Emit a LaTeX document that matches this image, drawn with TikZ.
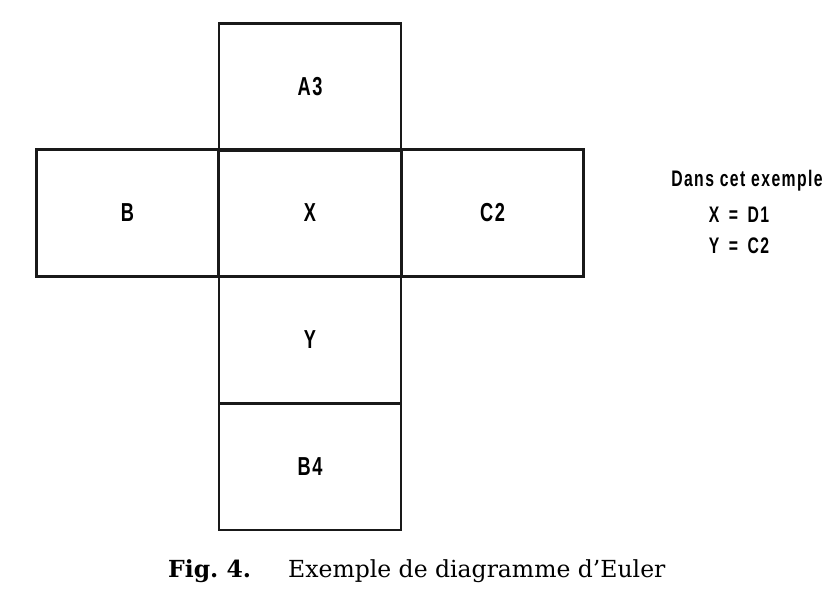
\documentclass[tikz,border=0pt]{standalone}
\usepackage{fontspec}
\setmainfont{DejaVu Serif}
\newfontfamily\labelfont{Liberation Sans}[LetterSpace=9]
\newcommand{\cond}[1]{\scalebox{0.7}[1]{\labelfont\bfseries #1}}
\begin{document}
\begin{tikzpicture}[x=1pt,y=-1pt,
  cell/.style={draw=black!90,line width=2.8pt,minimum width=182pt,minimum height=127pt,inner sep=0pt,font=\fontsize{26}{30}\selectfont},
  note/.style={inner sep=0pt,font=\fontsize{22.5}{26}\selectfont},
  capt/.style={inner sep=0pt,anchor=base west,font=\fontsize{23.5}{28}\selectfont}]
\useasboundingbox (0,0) rectangle (838,591);
% central cross of cells
\node[cell] (x) at (310,213) {\cond{X}};
\node[cell] (a3) at (310,87) {\cond{A3}};
\node[cell] (b) at (127.5,213) {\cond{B}};
\node[cell] (c2) at (492.5,213) {\cond{C2}};
\node[cell] (y) at (310,340) {\cond{Y}};
\node[cell] (b4) at (310,466.5) {\cond{B4}};
% example values
\node[note] (n1) at (747,181) {\cond{Dans cet exemple}};
\node[note] (n2) at (739,215) {\cond{X\hspace{0.6em}=\hspace{0.6em}D1}};
\node[note] (n3) at (739,246) {\cond{Y\hspace{0.6em}=\hspace{0.6em}C2}};
% caption
\node[capt] (fig) at (168,577) {\bfseries Fig.\ 4.};
\node[capt] (cap) at (288,577) {Exemple de diagramme d’Euler};
\end{tikzpicture}
\end{document}
